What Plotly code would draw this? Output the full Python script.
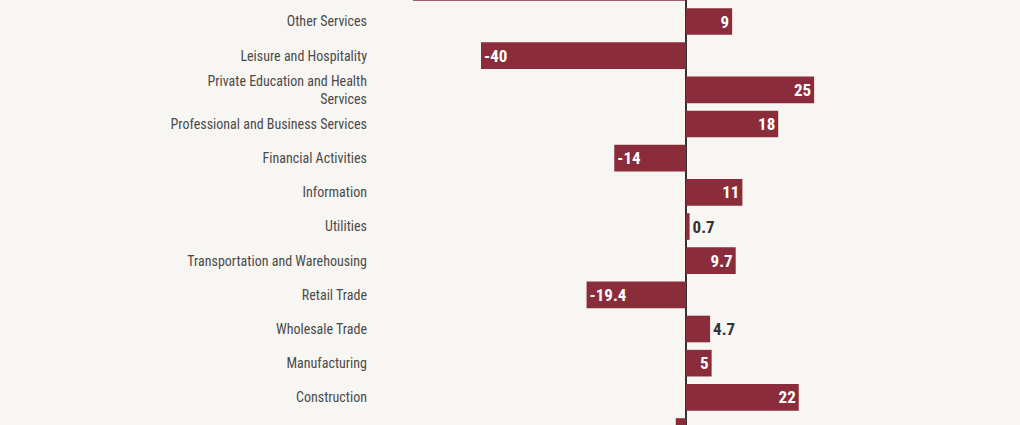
import plotly.graph_objects as go

# sectors from bottom to top
sectors = [
    "Mining and Logging",
    "Construction",
    "Manufacturing",
    "Wholesale Trade",
    "Retail Trade",
    "Transportation and Warehousing",
    "Utilities",
    "Information",
    "Financial Activities",
    "Professional and Business Services",
    "Private Education and Health<br>Services",
    "Leisure and Hospitality",
    "Other Services",
    "Government",
]
changes = [-2, 22, 5, 4.7, -19.4, 9.7, 0.7, 11, -14, 18, 25, -40, 9, -53.3]
labels = ["-2", "22", "5", "4.7", "-19.4", "9.7", "0.7", "11", "-14", "18", "25", "-40", "9", "-53.3"]

font_family = "Roboto Condensed, Liberation Sans Narrow, DejaVu Sans Condensed, Roboto, sans-serif"
bar_color = "#8a2c3a"
bg = "#f8f6f3"

positions = ["outside" if abs(v) < 5 else "inside" for v in changes]

fig = go.Figure()
fig.add_trace(go.Bar(
    x=changes,
    y=sectors,
    orientation="h",
    marker=dict(color=bar_color, line=dict(width=0)),
    text=labels,
    textposition=positions,
    insidetextanchor="end",
    insidetextfont=dict(family=font_family, size=17, color="white", weight="bold"),
    outsidetextfont=dict(family=font_family, size=17, color="#333333", weight="bold"),
    cliponaxis=True,
    hoverinfo="x+y",
))

fig.update_layout(
    width=1020,
    height=425,
    margin=dict(l=375, r=0, t=0, b=0),
    paper_bgcolor=bg,
    plot_bgcolor=bg,
    bargap=0.22,
    showlegend=False,
    font=dict(family=font_family, size=14, color="#4a4a4a"),
)
fig.update_xaxes(
    range=[(375 - 686) / 5.125, (1020 - 686) / 5.125],
    showgrid=False,
    showticklabels=False,
    zeroline=True,
    zerolinecolor="#333333",
    zerolinewidth=1.5,
)
fig.update_yaxes(
    type="category",
    range=[0.19, 12.63],
    showgrid=False,
    ticks="",
    ticklabelstandoff=7,
    tickfont=dict(family=font_family, size=14, color="#4a4a4a"),
)

# drop the page margin so the chart fills the window
fig.write_html(
    "out.html",
    config={"displayModeBar": False},
    post_script="document.body.style.margin='0';document.body.style.background='%s';" % bg,
)
